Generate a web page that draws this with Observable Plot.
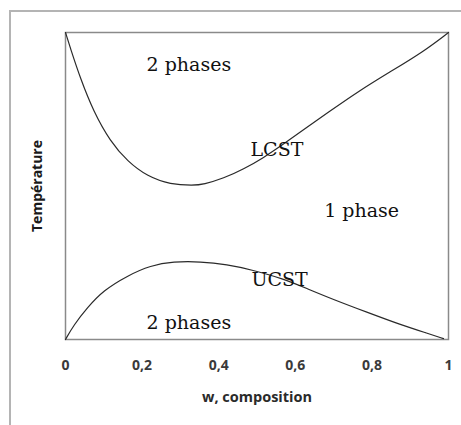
<!DOCTYPE html>
<html>
<head>
<meta charset="utf-8">
<script src="https://cdn.jsdelivr.net/npm/d3@7"></script>
<script src="https://cdn.jsdelivr.net/npm/@observablehq/plot@0.6"></script>
<style>
  html, body { margin: 0; padding: 0; background: #fff; }
  body { width: 461px; height: 425px; overflow: hidden; position: relative; }
  #outer { position: absolute; left: 9px; top: 10px; width: 600px; height: 600px; border: 2px solid #b4b4b4; box-sizing: border-box; }
  #chart { position: absolute; left: 0; top: 0; }
</style>
</head>
<body>
<div id="outer"></div>
<div id="chart"></div>
<script>
// LCST curve (upper)
const lcstW = [0, 0.013, 0.039, 0.073, 0.117, 0.162, 0.214, 0.274, 0.334, 0.360, 0.413, 0.465, 0.517, 0.569, 0.621, 0.692, 0.762, 0.849, 0.935, 1];
const lcstT = [1, 0.948, 0.850, 0.743, 0.645, 0.580, 0.531, 0.505, 0.502, 0.505, 0.525, 0.555, 0.592, 0.636, 0.683, 0.745, 0.806, 0.873, 0.938, 1];
// UCST curve (lower)
const ucstW = [0, 0.021, 0.057, 0.099, 0.162, 0.222, 0.282, 0.352, 0.423, 0.483, 0.569, 0.632, 0.700, 0.789, 0.875, 0.945, 0.987];
const ucstT = [0, 0.046, 0.104, 0.160, 0.208, 0.241, 0.254, 0.254, 0.244, 0.228, 0.198, 0.165, 0.130, 0.088, 0.048, 0.020, 0.003];
// region labels
const labelText = ["2 phases", "LCST", "1 phase", "UCST", "2 phases"];
const labelW = [0.322, 0.552, 0.773, 0.559, 0.322];
const labelT = [0.895, 0.617, 0.419, 0.195, 0.054];
// axis
const xTicks = [0, 0.2, 0.4, 0.6, 0.8, 1];
const xTitle = "w, composition";
const yTitle = "Température";

const lcst = lcstW.map((w, i) => ({w, T: lcstT[i]}));
const ucst = ucstW.map((w, i) => ({w, T: ucstT[i]}));
const labels = labelText.map((t, i) => ({t, w: labelW[i], T: labelT[i]}));

const chart = Plot.plot({
  width: 461,
  height: 425,
  marginLeft: 65,
  marginRight: 13,
  marginTop: 32,
  marginBottom: 86,
  style: {background: "transparent", overflow: "visible"},
  x: {domain: [0, 1]},
  y: {domain: [0, 1], axis: null},
  marks: [
    Plot.frame({stroke: "#8a8a8a", strokeWidth: 1.5}),
    Plot.line(lcst, {x: "w", y: "T", curve: "basis", stroke: "#2a2a2a", strokeWidth: 1.2}),
    Plot.line(ucst, {x: "w", y: "T", curve: "basis", stroke: "#2a2a2a", strokeWidth: 1.2}),
    Plot.text(labels, {x: "w", y: "T", text: "t", textAnchor: "middle", lineAnchor: "middle",
      fontFamily: "DejaVu Serif", fontSize: 19, fill: "#111"}),
    Plot.axisX(xTicks, {tickSize: 0, tickPadding: 21, tickFormat: d => String(d).replace(".", ","),
      fontFamily: "Open Sans", fontSize: 14, fontWeight: "bold", fill: "#3a3a3a", label: null}),
    Plot.text([xTitle], {frameAnchor: "bottom", dy: 58, textAnchor: "middle", fontFamily: "Open Sans", fontSize: 14.5,
      fontWeight: "bold", fill: "#2a2a2a", lineAnchor: "middle"}),
    Plot.text([yTitle], {frameAnchor: "left", dx: -28, rotate: -90, textAnchor: "middle", fontFamily: "Open Sans", fontSize: 14,
      fontWeight: "bold", fill: "#1a1a1a", lineAnchor: "middle"})
  ]
});
document.getElementById("chart").appendChild(chart);
</script>
</body>
</html>
